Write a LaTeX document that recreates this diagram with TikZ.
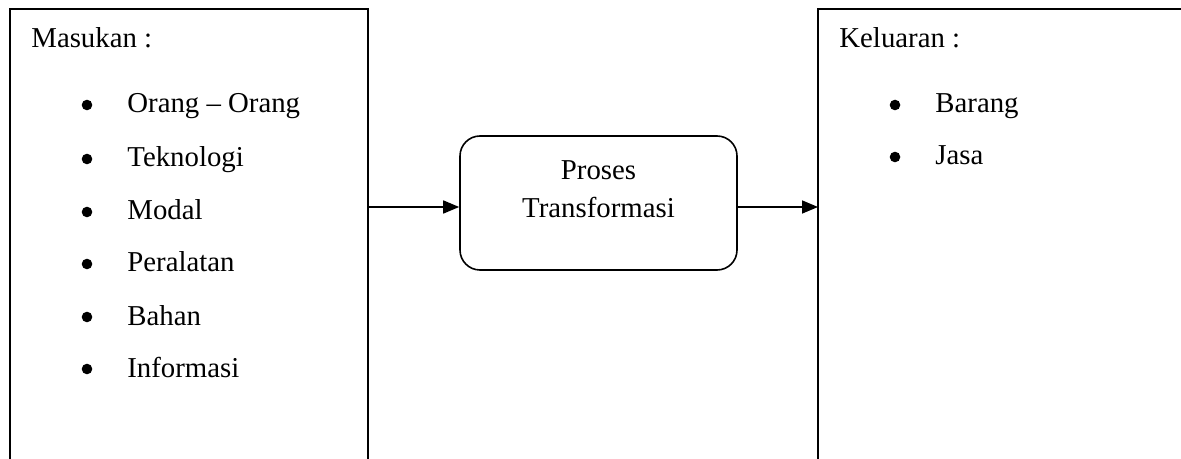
\documentclass[tikz,border=0pt]{standalone}
\usepackage{fontspec}
\setmainfont{Liberation Serif}
\usetikzlibrary{arrows.meta}
\begin{document}
\begin{tikzpicture}[x=0.5pt,y=-0.5pt,
  frame/.style={line width=0.9pt,black},
  txt/.style={anchor=base west,inner sep=0pt,font=\fontsize{14.4}{19}\selectfont},
  bul/.style={circle,fill=black,inner sep=0pt,minimum size=5.3pt},
  proc/.style={draw,line width=0.8pt,rounded corners=10pt,minimum width=138.5pt,minimum height=67pt},
  flow/.style={line width=0.8pt,-{Triangle[length=8pt,width=6.5pt]}}]
\useasboundingbox (0,0) rectangle (1181,459);
% left box
\coordinate (lbl) at (10,462);
\coordinate (ltl) at (10,9);
\coordinate (ltr) at (368,9);
\coordinate (lbr) at (368,462);
\draw[frame] (lbl) -- (ltl) -- (ltr) -- (lbr);
% right box
\coordinate (rbl) at (818,462);
\coordinate (rtl) at (818,9);
\coordinate (rtr) at (1185,9);
\draw[frame] (rbl) -- (rtl) -- (rtr);
% texts left
\node[txt] (masukan) at (31,48) {Masukan :};
\foreach \y/\t [count=\i] in {113/Orang -- Orang,167/Teknologi,220/Modal,272/Peralatan,325/Bahan,377/Informasi}{
  \node[bul] (lb\i) at (87,\y-8) {};
  \node[txt] (li\i) at (127,\y) {\t};
}
% texts right
\node[txt] (keluaran) at (839,48) {Keluaran :};
\foreach \y/\t [count=\i] in {113/Barang,165/Jasa}{
  \node[bul] (rb\i) at (895,\y-8) {};
  \node[txt] (ri\i) at (935,\y) {\t};
}
% middle
\node[proc] (mid) at (598.5,203) {};
\node[font=\fontsize{14.4}{19}\selectfont,align=center,anchor=base,inner sep=0pt] (midtxt) at (598.5,218) {Proses\\Transformasi};
% arrows
\coordinate (a1s) at (368,207);
\coordinate (a2e) at (818,207);
\draw[flow] (a1s) -- (a1s -| mid.west);
\draw[flow] (a2e -| mid.east) -- (a2e);
\end{tikzpicture}
\end{document}
